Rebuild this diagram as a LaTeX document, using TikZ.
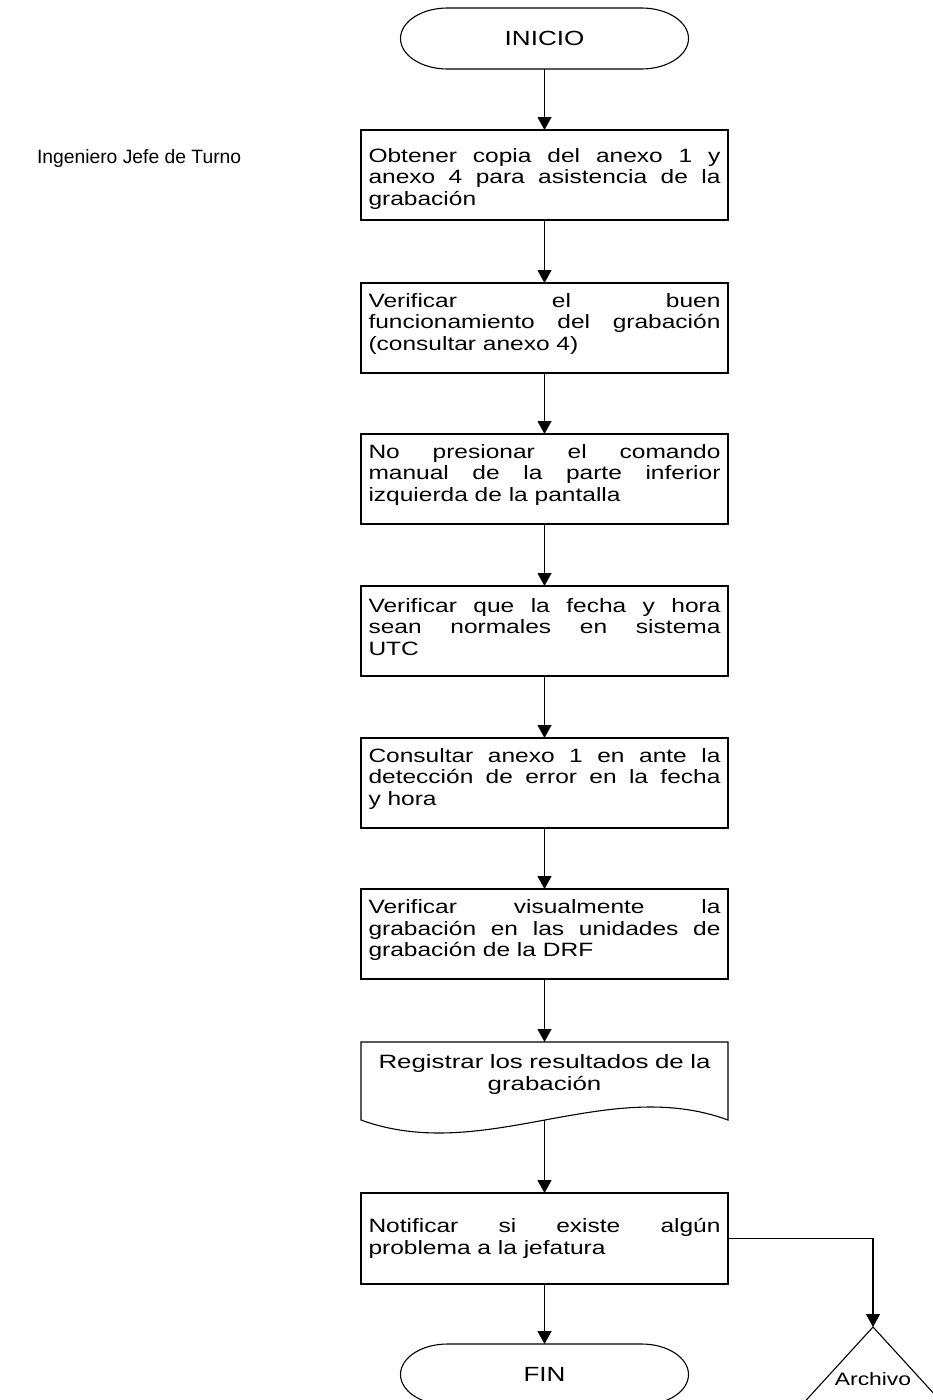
\documentclass[tikz,border=0pt]{standalone}
\usepackage{fontspec}
\setmainfont{Liberation Sans}
\newfontfamily\widefont{Liberation Sans}[FakeStretch=1.27]
\newfontfamily\widerfont{Liberation Sans}[FakeStretch=1.34]
\usetikzlibrary{arrows.meta,calc}
\setlength{\parindent}{0pt}
\hyphenpenalty=10000
\tolerance=10000
\hbadness=10000

% space under the text of a step: positive lifts the text, negative lowers it
\newcommand\lowpad{\par\vspace*{8pt}}
\newcommand\highpad{\par\vspace*{-8pt}}

% stadium-shaped outline around a terminal node
\newcommand\stadium[1]{%
  \draw ($(#1.north west)+(47,0)$) -- ($(#1.north east)+(-47,0)$)
    arc[start angle=-90,end angle=90,x radius=47,y radius=30.5]
    -- ($(#1.south west)+(47,0)$)
    arc[start angle=90,end angle=270,x radius=47,y radius=30.5] -- cycle;}

\begin{document}
\begin{tikzpicture}[x=1pt,y=-1pt,line width=1.1pt,
  every node/.style={inner sep=0pt,outer sep=0pt},
  boxfont/.style={font=\widefont\fontsize{19.3}{21.7}\selectfont},
  basestep/.style={draw,boxfont,minimum height=90pt,text width=352pt,
    inner xsep=7.5pt,align=justify},
  stepbox/.style={basestep,execute at end node=\lowpad},
  terminal/.style={font=\widefont\fontsize{20.5}{23}\selectfont,
    minimum width=288pt,minimum height=61pt},
  docbox/.style={font=\widerfont\fontsize{19.3}{21.7}\selectfont,
    anchor=north,text width=352pt,align=center,
    inner xsep=7.5pt,inner ysep=13pt},
  arr/.style={-{Triangle[width=14pt,length=13pt]}}]

\path[use as bounding box,fill=white] (0,0) rectangle (932,1400);

% lane label
\node[anchor=base west,font=\fontsize{19.3}{21.7}\selectfont] (role) at (37,163) {Ingeniero Jefe de Turno};

% start
\node[terminal] (start) at (544.5,38.5) {INICIO};
\stadium{start}

% process steps
\node[basestep,execute at end node=\highpad] (s1) at (544.5,175) {Obtener copia del anexo 1 y\linebreak anexo 4 para asistencia de la\linebreak grabación};
\node[stepbox] (s2) at (544.5,328) {Verificar el buen\linebreak funcionamiento del grabación\linebreak (consultar anexo 4)};
\node[stepbox] (s3) at (544.5,479) {No presionar el comando\linebreak manual de la parte inferior\linebreak izquierda de la pantalla};
\node[stepbox] (s4) at (544.5,631) {Verificar que la fecha y hora\linebreak sean normales en sistema\linebreak UTC};
\node[stepbox] (s5) at (544.5,783) {Consultar anexo 1 en ante la\linebreak detección de error en la fecha\linebreak y hora};
\node[stepbox] (s6) at (544.5,934) {Verificar visualmente la\linebreak grabación en las unidades de\linebreak grabación de la DRF};

% document symbol
\node[docbox] (doc) at (544.5,1042) {Registrar los resultados de la\\grabación};
\draw (doc.north west) -- (doc.north east) -- ($(doc.north east)+(0,78)$)
  .. controls ($(doc.north east)+(-122,33)$) and ($(doc.north west)+(123,123)$)
  .. ($(doc.north west)+(0,78)$) -- cycle;
\coordinate (docout) at ($(doc.north)+(0,78)$);

\node[basestep,minimum height=91pt] (s8) at (544.5,1238.5) {Notificar si existe algún\linebreak problema a la jefatura};

% end
\node[terminal] (fin) at (544.5,1374.5) {FIN};
\stadium{fin}

% archive triangle
\coordinate (apex) at (873,1327);
\draw (apex) -- ++(-85,93) -- ++(170,0) -- cycle;
\node[font=\widefont\fontsize{18}{20}\selectfont] (arch) at (873,1379) {Archivo};

% connectors
\draw[arr] (start) -- (s1);
\draw[arr] (s1) -- (s2);
\draw[arr] (s2) -- (s3);
\draw[arr] (s3) -- (s4);
\draw[arr] (s4) -- (s5);
\draw[arr] (s5) -- (s6);
\draw[arr] (s6) -- (doc.north);
\draw[arr] (docout) -- (s8);
\draw[arr] (s8) -- (fin);
\draw[arr] (s8.east) -| (apex);
\end{tikzpicture}
\end{document}
